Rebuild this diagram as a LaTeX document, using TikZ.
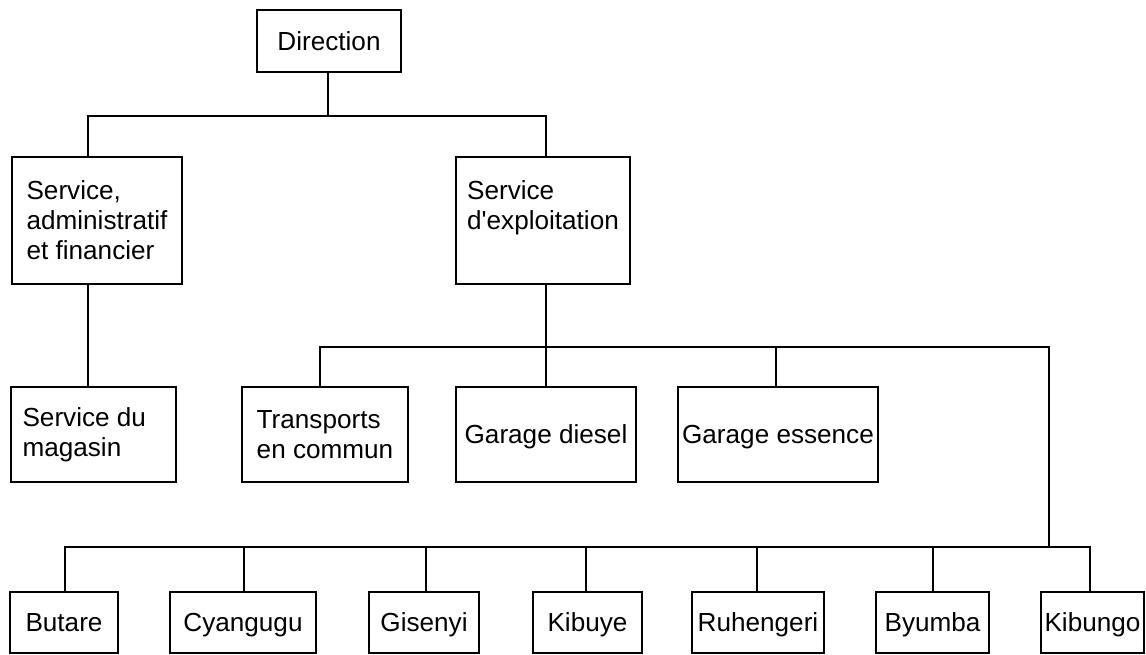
\documentclass[tikz,border=0pt]{standalone}
\usepackage{fontspec}
\setmainfont{Liberation Sans}[Ligatures=TeXOff]
\begin{document}
\begin{tikzpicture}[x=0.75pt,y=-0.75pt,
  every node/.style={font=\fontsize{19.6}{22.5}\selectfont},
  box/.style={draw=black, line width=1.3pt, fill=white, inner sep=0pt, align=left},
  one/.style={text height=14pt, text depth=0pt},
  sz/.style 2 args={minimum width=#1*0.75pt, minimum height=#2*0.75pt},
  conn/.style={draw=black, line width=1.4pt}]
\useasboundingbox[fill=white] (0,0) rectangle (1146,654);

% boxes
\node[box, one, sz={144}{62}] (dir) at (329,41) {Direction};
\node[box, sz={170}{127}] (adm) at (97,220.5) {Service,\\administratif\\et financier};
\node[box, sz={174}{127}] (exp) at (543,220.5) {Service\\d'exploitation\\\mbox{}};
\node[box, sz={165}{95}] (mag) at (93.5,434.5) {Service du\\magasin\hspace*{1.65em}};
\node[box, sz={166}{95}] (trans) at (325,434.5) {Transports\\en commun};
\node[box, one, sz={180}{95}] (diesel) at (546,434.5) {Garage diesel};
\node[box, one, sz={200}{95}] (ess) at (778,434.5) {Garage essence};

\node[box, one, sz={108}{61}] (butare) at (64,622.5) {Butare};
\node[box, one, sz={146}{61}] (cyan) at (243,622.5) {Cyangugu};
\node[box, one, sz={110}{61}] (gis) at (424,622.5) {Gisenyi};
\node[box, one, sz={109}{61}] (kibuye) at (587.5,622.5) {Kibuye};
\node[box, one, sz={132}{61}] (ruh) at (758,622.5) {Ruhengeri};
\node[box, one, sz={113}{61}] (byu) at (932.5,622.5) {Byumba};
\node[box, one, sz={103}{61}] (kibungo) at (1092.5,622.5) {Kibungo};

% column and bus coordinates
\coordinate (b1) at (328,116);
\coordinate (va) at (88,0);
\coordinate (ve) at (546,0);
\coordinate (b2) at (546,347);
\coordinate (vt) at (320,0);
\coordinate (vess) at (776,0);
\coordinate (b3) at (1049,547);
\coordinate (c1) at (65,0);
\coordinate (c2) at (244,0);
\coordinate (c3) at (426,0);
\coordinate (c4) at (586,0);
\coordinate (c5) at (757,0);
\coordinate (c6) at (933,0);
\coordinate (c7) at (1090,0);

% connectors
\draw[conn] (dir.south -| b1) -- (b1);
\draw[conn] (adm.north -| va) |- (b1) -| (exp.north -| ve);
\draw[conn] (adm.south -| va) -- (mag.north -| va);
\draw[conn] (exp.south -| ve) -- (b2);
\draw[conn] (trans.north -| vt) |- (b3 |- b2) -- (b3);
\draw[conn] (b2) -- (diesel.north -| b2);
\draw[conn] (ess.north -| vess) -- (vess |- b2);
\draw[conn] (butare.north -| c1) |- (b3) -| (kibungo.north -| c7);
\draw[conn] (cyan.north -| c2) -- (c2 |- b3);
\draw[conn] (gis.north -| c3) -- (c3 |- b3);
\draw[conn] (kibuye.north -| c4) -- (c4 |- b3);
\draw[conn] (ruh.north -| c5) -- (c5 |- b3);
\draw[conn] (byu.north -| c6) -- (c6 |- b3);
\end{tikzpicture}
\end{document}
